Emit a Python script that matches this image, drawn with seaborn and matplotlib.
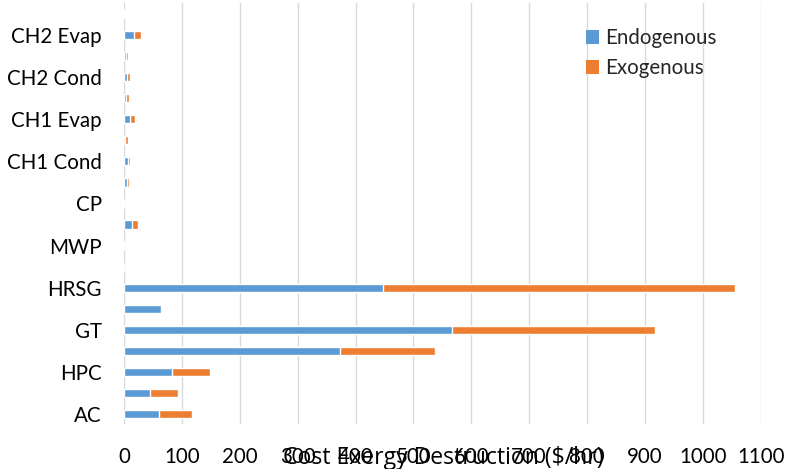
import matplotlib
matplotlib.use("Agg")
import matplotlib.pyplot as plt
from matplotlib.patches import Patch
import seaborn as sns
import pandas as pd

# Components, bottom to top; only every other name is shown on the axis
components = ["AC", "IC", "HPC", "CC", "GT", "ST", "HRSG", "Stack", "MWP", "Cond",
              "CP", "CH1 Gen", "CH1 Cond", "CH1 Abs", "CH1 Evap", "CH2 Gen",
              "CH2 Cond", "CH2 Abs", "CH2 Evap", "CH2 Pump"]
endogenous = [60.7, 45.7, 83.0, 374.0, 566.0, 64.5, 448.0, 0.3, 0.0, 14.6,
              0.3, 4.8, 6.0, 2.5, 11.0, 4.2, 5.4, 3.6, 18.0, 0.3]
exogenous = [56.0, 48.0, 65.0, 164.0, 351.0, 0.0, 608.0, 0.5, 0.2, 9.2,
             0.5, 4.6, 5.0, 4.5, 8.0, 5.2, 4.6, 4.0, 11.6, 0.6]
x_ticks = [0, 100, 200, 300, 400, 500, 600, 700, 800, 900, 1000, 1100]
series_names = ["Endogenous", "Exogenous"]
colors = ["#5B9BD5", "#ED7D31"]

df = pd.DataFrame({"component": components,
                   "endo": endogenous,
                   "exo": exogenous})
df["total"] = df["endo"] + df["exo"]

sns.set_theme(style="white")
plt.rcParams["font.family"] = ["Lato", "DejaVu Sans"]
FS = 14.8

fig = plt.figure(figsize=(7.85, 4.69), dpi=100)
ax = fig.add_axes([0.158, 0.0949, 0.811, 0.8977])

order = components[::-1]  # top row first
bar_h = 0.39
# Stacked look: full total in orange, endogenous part drawn over it in blue
sns.barplot(data=df, x="total", y="component", order=order, orient="h",
            color=colors[1], width=bar_h, saturation=1, ax=ax, errorbar=None)
sns.barplot(data=df, x="endo", y="component", order=order, orient="h",
            color=colors[0], width=bar_h, saturation=1, ax=ax, errorbar=None)

ax.set_xlim(0, 1100)
ax.set_ylim(len(components) - 0.5, -0.5)
ax.set_xticks(x_ticks)
ax.set_xticklabels([str(t) for t in x_ticks])
ax.set_yticks(range(len(order)))
ax.set_yticklabels([name if (len(components) - 1 - i) % 2 == 0 else ""
                    for i, name in enumerate(order)])

ax.xaxis.grid(True, color="#D9D9D9", linewidth=1.0)
ax.yaxis.grid(False)
ax.set_axisbelow(True)
for s in ax.spines.values():
    s.set_visible(False)

ax.tick_params(axis="y", length=0, pad=16, labelsize=FS, labelcolor="black")
ax.tick_params(axis="x", length=0, pad=16.5, labelsize=FS, labelcolor="black")

ax.set_ylabel("")
ax.set_xlabel("Cost Exergy Destruction ($/hr)", fontsize=16.6, color="black",
              va="center", family=["Open Sans", "DejaVu Sans"])
ax.xaxis.set_label_coords(0.502, -0.0796)

handles = [Patch(facecolor=c, edgecolor="none") for c in colors]
ax.legend(handles, series_names, loc="upper left", bbox_to_anchor=(0.712, 0.961),
          frameon=False, fontsize=FS, handlelength=0.65, handleheight=0.65,
          handletextpad=0.3, labelspacing=0.5, borderaxespad=0)

fig.savefig("out.png", dpi=100)
